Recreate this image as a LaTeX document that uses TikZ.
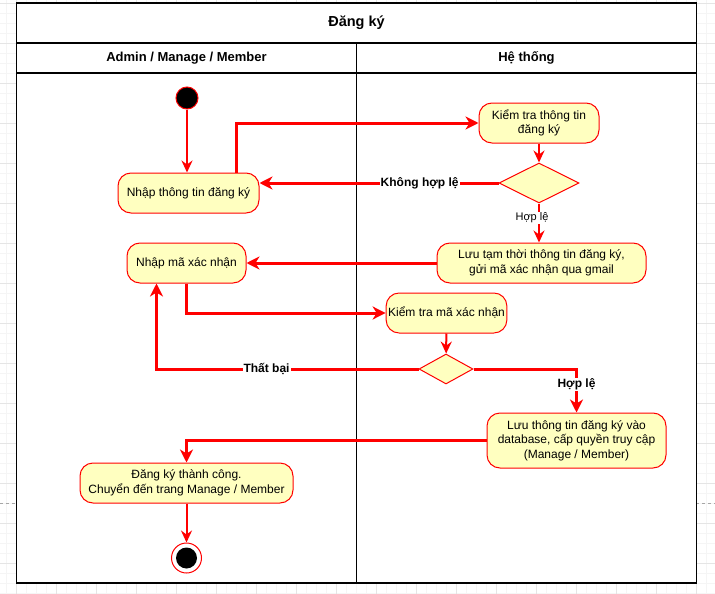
\documentclass[tikz,border=0pt]{standalone}
\usepackage{fontspec}
\setmainfont{Liberation Sans}
\usepackage{xcolor}
\usetikzlibrary{arrows.meta,shapes.geometric}

\definecolor{umlred}{HTML}{FF0000}
\definecolor{umlfill}{HTML}{FFFFC0}

\begin{document}
\begin{tikzpicture}[
  x=1pt,y=-1pt,
  font=\fontsize{12}{14.4}\selectfont,
  act/.style={rectangle,rounded corners=13pt,draw=umlred,fill=umlfill,line width=1pt,minimum height=40pt,inner sep=2pt,align=center},
  dec/.style={diamond,draw=umlred,fill=umlfill,line width=1pt,inner sep=0pt},
  initst/.style={circle,draw=umlred,fill=black,line width=1pt,minimum size=22pt,inner sep=0pt},
  finout/.style={circle,draw=umlred,fill=white,line width=1pt,minimum size=30pt,inner sep=0pt},
  finin/.style={circle,fill=black,minimum size=21pt,inner sep=0pt},
  flow/.style={-{Stealth[length=13pt,width=13pt,inset=4pt]},umlred,line width=3pt},
  flowthin/.style={-{Stealth[length=12pt,width=11pt,inset=4pt]},umlred,line width=2pt},
  guard/.style={font=\bfseries\fontsize{12}{14}\selectfont,text=black,fill=white,inner sep=1pt},
  guardsm/.style={font=\fontsize{11}{13}\selectfont,text=black,fill=white,inner sep=1pt},
  lane/.style={draw=black,line width=1.5pt},
  lanetitle/.style={font=\bfseries\fontsize{13}{15}\selectfont},
  gridminor/.style={draw=black!4,line width=0.6pt},
  gridmajor/.style={draw=black!10,line width=0.6pt}
]
\useasboundingbox (0,0) rectangle (715,594);

%%%%%%%%%%%%%%%%%%%%%%%%%%%%%%%%%%%%%%%%%%%%%%%%%%%%
% Canvas grid and page break
%%%%%%%%%%%%%%%%%%%%%%%%%%%%%%%%%%%%%%%%%%%%%%%%%%%%
\foreach \i in {0,...,70} {\draw[gridminor] ({6.5+10*\i},0) -- ({6.5+10*\i},594);}
\foreach \j in {0,...,59} {\draw[gridminor] (0,{3+10*\j}) -- (715,{3+10*\j});}
\foreach \i in {0,...,17} {\draw[gridmajor] ({16.5+40*\i},0) -- ({16.5+40*\i},594);}
\foreach \j in {0,...,14} {\draw[gridmajor] (0,{3+40*\j}) -- (715,{3+40*\j});}
\draw[gray!70,dashed,line width=0.8pt] (0,503) -- (715,503);

%%%%%%%%%%%%%%%%%%%%%%%%%%%%%%%%%%%%%%%%%%%%%%%%%%%%
% Swimlanes
%%%%%%%%%%%%%%%%%%%%%%%%%%%%%%%%%%%%%%%%%%%%%%%%%%%%
\fill[white] (16.5,3) rectangle (696.5,583);
\draw[lane] (16.5,3) rectangle (696.5,583);
\draw[lane] (16.5,43) -- (696.5,43);
\draw[lane] (16.5,73) -- (696.5,73);
\draw[lane] (356.5,43) -- (356.5,583);

\node[lanetitle,font=\bfseries\fontsize{14.5}{16}\selectfont] (ttl) at (356.5,23) {Đăng ký};
\node[lanetitle] (laneA) at (186.5,58) {Admin / Manage / Member};
\node[lanetitle] (laneB) at (526.5,58) {Hệ thống};

%%%%%%%%%%%%%%%%%%%%%%%%%%%%%%%%%%%%%%%%%%%%%%%%%%%%
% Activities
%%%%%%%%%%%%%%%%%%%%%%%%%%%%%%%%%%%%%%%%%%%%%%%%%%%%
\node[initst] (start) at (187,98) {};
\node[act,minimum width=141pt] (n1) at (188.5,193) {Nhập thông tin đăng ký};
\node[act,minimum width=120pt] (k1) at (539,123) {Kiểm tra thông tin\\đăng ký};
\node[dec,minimum width=80pt,minimum height=40pt] (d1) at (539,183) {};
\node[act,minimum width=209pt] (l1) at (541.5,263) {Lưu tạm thời thông tin đăng ký,\\gửi mã xác nhận qua gmail};
\node[act,minimum width=119pt] (n2) at (186.5,263) {Nhập mã xác nhận};
\node[act,minimum width=119pt] (k2) at (446.5,313) {Kiểm tra mã xác nhận};
\node[dec,minimum width=54pt,minimum height=30pt] (d2) at (446,369) {};
\node[act,minimum width=179pt,minimum height=55pt] (l2) at (576.5,440.5) {Lưu thông tin đăng ký vào\\database, cấp quyền truy cập\\(Manage / Member)};
\node[act,minimum width=213pt] (n3) at (186.5,483) {Đăng ký thành công.\\Chuyển đến trang Manage / Member};
\node[finout] (fin) at (186.5,558) {};
\node[finin] (finc) at (fin) {};

%%%%%%%%%%%%%%%%%%%%%%%%%%%%%%%%%%%%%%%%%%%%%%%%%%%%
% Flows
%%%%%%%%%%%%%%%%%%%%%%%%%%%%%%%%%%%%%%%%%%%%%%%%%%%%
\draw[flowthin] (start) -- (start |- n1.north);
\draw[flow] ([xshift=47.5pt]n1.north) |- (k1.west);
\draw[flowthin] (k1) -- (d1);
\draw[flow] (d1.west) -- (d1.west -| n1.east) node[guard,pos=0.33] (g1) {Không hợp lệ};
\draw[flowthin] (d1.south) -- (d1.south |- l1.north) node[guardsm,pos=0.375,xshift=-7pt] (g2) {Hợp lệ};
\draw[flow] (l1.west) -- (n2.east);
\draw[flow] (n2.south) |- (k2.west);
\draw[flowthin] (k2) -- (d2);
\draw[flow] (d2.west) -| ([xshift=-30pt]n2.south) node[guard,pos=0.29] (g3) {Thất bại};
\draw[flow] (d2.east) -| (l2.north) node[guard,pos=0.68] (g4) {Hợp lệ};
\draw[flow] (l2.west) -| (n3.north);
\draw[flowthin] (n3) -- (fin);

\end{tikzpicture}
\end{document}
